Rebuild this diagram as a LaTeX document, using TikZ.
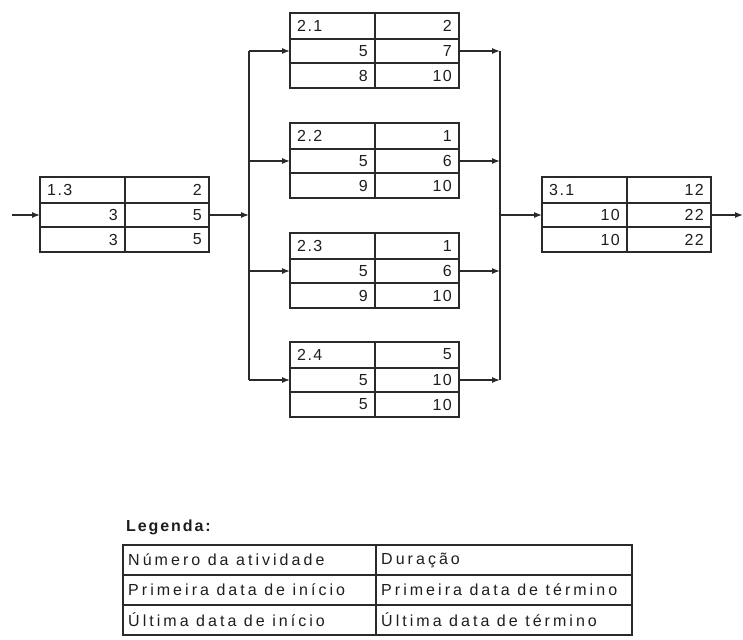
\documentclass[tikz,border=0pt]{standalone}
\usepackage{fontspec}
\setmainfont{Liberation Sans}
\newfontfamily\boxfont[LetterSpace=9]{Liberation Sans}
\newfontfamily\legfont[LetterSpace=19]{Liberation Sans}
\newfontfamily\legheadfont[LetterSpace=12]{Liberation Sans}
\usetikzlibrary{arrows.meta}
\definecolor{ln}{HTML}{2A2A2A}
\definecolor{tx}{HTML}{1E1E1E}
\tikzset{
  actframe/.style={draw=ln, line width=1.8pt, minimum width=169pt, minimum height=75pt, inner sep=0pt, outer sep=0pt},
  gridline/.style={draw=ln, line width=1.5pt},
  celltext/.style={inner sep=0pt, text=tx, font=\boxfont\fontsize{16}{16}\selectfont},
  wire/.style={draw=ln, line width=1.2pt},
  arr/.style={wire, -{Latex[length=8pt,width=6pt]}},
  legframe/.style={draw=ln, line width=1.8pt, inner sep=0pt, outer sep=0pt},
  legtext/.style={inner sep=0pt, text=tx, anchor=west, font=\legfont\fontsize{16}{16}\selectfont},
}
% #1 name, #2 x left, #3 y top, #4 id, #5 duration, #6 ES, #7 EF, #8 LS, #9 LF
\newcommand\actbox[9]{%
  \node[actframe, anchor=north west] (#1) at (#2,#3) {};
  \draw[gridline] (#2,#3+26) -- (#2+169,#3+26);
  \draw[gridline] (#2,#3+50) -- (#2+169,#3+50);
  \draw[gridline] (#2+85,#3) -- (#2+85,#3+75);
  \node[celltext, anchor=west] (#1-id) at (#2+7,#3+12.5) {#4};
  \node[celltext, anchor=east] (#1-du) at (#2+162,#3+12.5) {#5};
  \node[celltext, anchor=east] (#1-es) at (#2+78,#3+38) {#6};
  \node[celltext, anchor=east] (#1-ef) at (#2+162,#3+38) {#7};
  \node[celltext, anchor=east] (#1-ls) at (#2+78,#3+62.5) {#8};
  \node[celltext, anchor=east] (#1-lf) at (#2+162,#3+62.5) {#9};
  \coordinate (#1-in) at (#2,#3+38);
  \coordinate (#1-out) at (#2+169,#3+38);
}
\begin{document}
\begin{tikzpicture}[x=1pt,y=-1pt]
  \useasboundingbox[fill=white] (0,0) rectangle (743,639);

  \actbox{b13}{40}{177}{1.3}{2}{3}{5}{3}{5}
  \actbox{b21}{290}{13}{2.1}{2}{5}{7}{8}{10}
  \actbox{b22}{290}{123}{2.2}{1}{5}{6}{9}{10}
  \actbox{b23}{290}{233}{2.3}{1}{5}{6}{9}{10}
  \actbox{b24}{290}{342}{2.4}{5}{5}{10}{5}{10}
  \actbox{b31}{542}{177}{3.1}{12}{10}{22}{10}{22}

  \coordinate (src) at (12,215);
  \coordinate (busL) at (249,215);
  \coordinate (busR) at (500,215);
  \coordinate (sink) at (743,215);

  \draw[arr] (src) -- (b13-in);
  \draw[arr] (b13-out) -- (busL);
  \draw[wire] (b21-in -| busL) -- (b24-in -| busL);
  \foreach \b in {b21,b22,b23,b24}{
    \draw[arr] (\b-in -| busL) -- (\b-in);
    \draw[arr] (\b-out) -- (\b-out -| busR);
  }
  \draw[wire] (b21-out -| busR) -- (b24-out -| busR);
  \draw[arr] (busR) -- (b31-in);
  \draw[arr] (b31-out) -- (sink);

  % legend
  \node[inner sep=0pt, anchor=west, text=tx, font=\legheadfont\bfseries\fontsize{16}{16}\selectfont] (leghead) at (126,527) {Legenda:};
  \node[legframe, anchor=north west, minimum width=509pt, minimum height=90pt] (legtab) at (123,545) {};
  \draw[gridline] (123,575) -- (632,575);
  \draw[gridline] (123,605) -- (632,605);
  \draw[gridline] (376,545) -- (376,635);
  \node[legtext] (l11) at (128,560) {Número da atividade};
  \node[legtext] (l12) at (381,560) {Duração};
  \node[legtext] (l21) at (128,590) {Primeira data de início};
  \node[legtext] (l22) at (381,590) {Primeira data de término};
  \node[legtext] (l31) at (128,620) {Última data de início};
  \node[legtext] (l32) at (381,620) {Última data de término};
\end{tikzpicture}
\end{document}
